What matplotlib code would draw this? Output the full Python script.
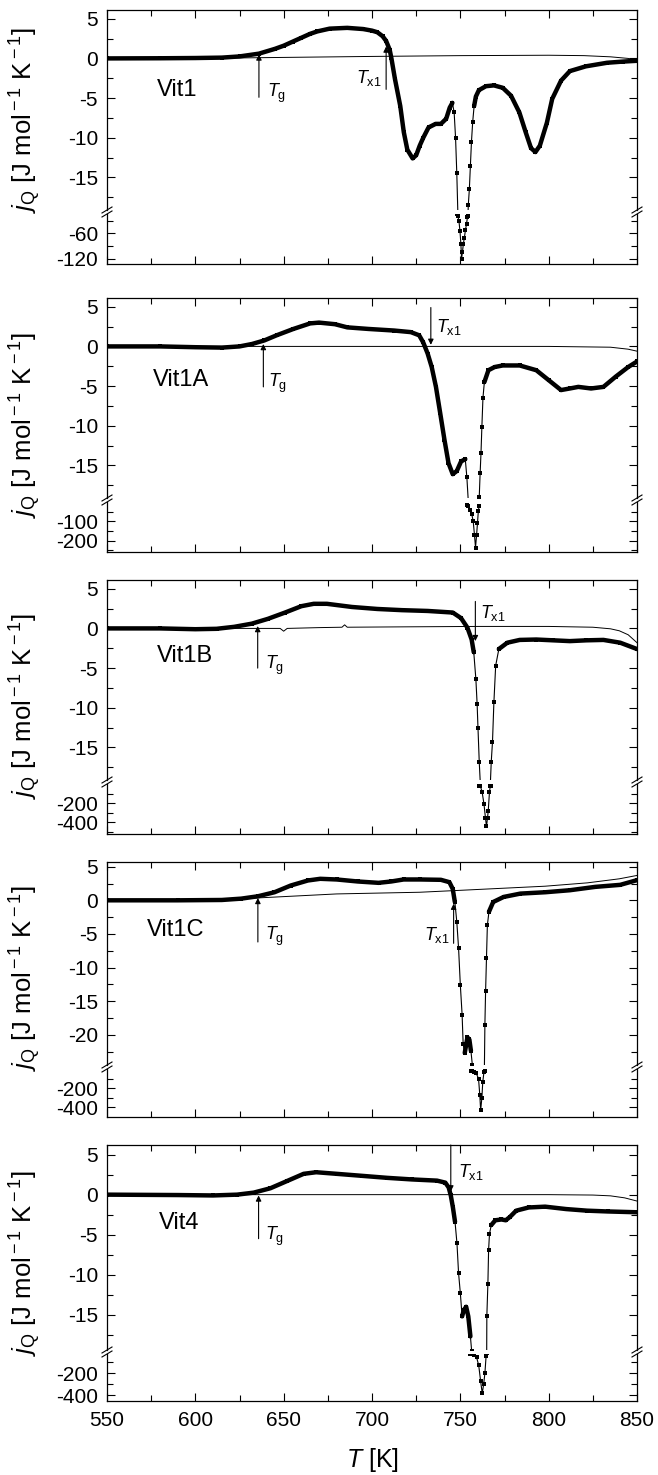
import numpy as np
import matplotlib
matplotlib.use('Agg')
import matplotlib.pyplot as plt
from matplotlib.lines import Line2D
from matplotlib.ticker import MultipleLocator, FixedLocator

plt.rcParams['font.family'] = ['Liberation Sans', 'DejaVu Sans']
plt.rcParams['mathtext.fontset'] = 'custom'
plt.rcParams['mathtext.rm'] = 'Liberation Sans'
plt.rcParams['mathtext.it'] = 'Liberation Sans:italic'
plt.rcParams['axes.unicode_minus'] = False

# ---- data: T [K], j_Q [J mol^-1 K^-1] ----
vit1_T = [550, 580, 600, 615, 625, 636, 645, 650, 655, 660, 665, 669, 676, 686, 695, 700, 703, 706,
          708, 710, 711, 713, 716, 718, 720, 723, 725, 727, 729, 732, 736, 739, 742, 744, 745.5,
          746.5, 747.3, 748.0, 748.6, 749.2, 749.8, 750.3, 750.7, 751.2, 751.7, 752.3, 752.9, 753.5,
          754.0, 754.5, 755.1, 755.7, 756.3, 757.0, 757.8, 758.8, 760.5, 764.5, 769, 774, 778.7,
          783.4, 787, 790, 792.5, 795, 799, 802, 807, 812, 821, 833, 842, 850]
vit1_j = [0.0, 0.02, 0.05, 0.1, 0.25, 0.6, 1.2, 1.6, 2.1, 2.6, 3.1, 3.4, 3.75, 3.85, 3.7, 3.5, 3.3, 2.8,
          2.2, 1.1, 0.0, -2.6, -6.0, -9.3, -11.5, -12.6, -12.2, -11.0, -10.0, -8.7, -8.25, -8.25, -7.6,
          -6.2, -5.6, -6.8, -10.0, -14.5, -19.5, -30, -55, -85, -120, -105, -85, -70, -52, -38,
          -22, -18.5, -16.5, -13.5, -10.5, -8.0, -6.0, -4.8, -4.0, -3.5, -3.4, -3.7, -4.7,
          -6.8, -9.3, -11.3, -11.8, -11.0, -8.1, -5.1, -2.8, -1.6, -1.0, -0.55, -0.4, -0.3]
vit1_base_T = [550, 620, 660, 700, 750, 800, 820, 835, 845, 850]
vit1_base_j = [0.0, 0.05, 0.15, 0.25, 0.35, 0.4, 0.35, 0.2, 0.0, -0.3]

vit1a_T = [550, 580, 600, 615, 625, 632, 639, 646, 655.5, 665, 670, 679, 686, 698, 712.5, 722, 726.7,
           729, 731.5, 733.8, 736.2, 738.6, 741, 743.3, 745.7, 748, 750.4, 752.8, 753.7, 754.5,
           755.5, 756.4, 757.3, 758.0, 758.6, 759.2, 759.7, 760.2, 760.7, 761.2, 761.7, 762.2,
           762.8, 763.6, 765.9, 769.4, 774, 783.6, 793, 800, 807, 812, 816.8, 824, 831, 838, 845, 850]
vit1a_j = [0.0, 0.0, -0.1, -0.15, 0.0, 0.3, 0.75, 1.4, 2.2, 2.9, 3.0, 2.8, 2.4, 2.2, 2.0, 1.8, 1.4,
           0.5, -0.9, -2.6, -5.1, -8.4, -11.75, -14.7, -16.1, -15.7, -14.5, -14.2, -16.5, -19.5,
           -40, -60, -100, -170, -235, -170, -110, -45, -19.0, -16.0, -13.4, -10.1,
           -6.5, -4.5, -3.0, -2.6, -2.4, -2.4, -3.0, -4.25, -5.5, -5.3, -5.1, -5.3, -5.1, -3.8, -2.6, -1.9]
vit1a_base_T = [550, 700, 800, 835, 845, 850]
vit1a_base_j = [0.0, 0.0, 0.0, -0.1, -0.35, -0.6]

vit1b_T = [550, 580, 600, 612, 622, 632, 641, 650.8, 660, 667, 674.5, 688.7, 703, 717, 731.5, 745.7,
           750.4, 754, 756.4, 757.6, 758.8, 759.5, 760, 760.7, 761.3, 762.3, 763.4, 764.2, 764.8,
           765.4, 765.8, 766.5, 767.0, 767.5, 768.2, 769, 770, 771.8, 776.6, 783.6, 793, 802.5,
           812, 821.4, 831, 840.5, 850]
vit1b_j = [0.0, 0.0, -0.1, -0.05, 0.2, 0.6, 1.2, 2.0, 2.8, 3.1, 3.1, 2.7, 2.45, 2.3, 2.2, 2.0,
           1.3, 0.1, -1.4, -3.0, -6.4, -9.5, -12.6, -16.8, -19.5, -80, -210, -350, -440,
           -350, -280, -80, -19.5, -16.8, -14.3, -9.3, -4.7, -2.6, -1.8, -1.45, -1.4, -1.5,
           -1.6, -1.5, -1.45, -1.8, -2.6]
vit1b_base_T = [550, 640, 648, 650, 652, 670, 683, 684.5, 686, 720, 760, 800, 825, 835, 840, 845, 850]
vit1b_base_j = [0.0, 0.0, 0.0, -0.35, 0.0, 0.1, 0.15, 0.45, 0.15, 0.2, 0.25, 0.25, 0.15, -0.05, -0.3,
                -0.8, -1.8]

vit1c_T = [550, 590, 615, 626, 635.4, 644.8, 654, 663.7, 670.7, 680, 692, 703.7, 710.8, 717.9, 727.3,
           739, 743.8, 745.7, 746.9, 748, 749, 750, 751, 751.6, 752.5, 753.3, 754, 755.1, 756,
           756.8, 757.5, 759, 760.3, 761, 761.5, 762.2, 762.7, 763.4, 763.9, 764.3, 764.8, 765.3,
           766.2, 768.6, 774.5, 784, 798, 812, 826.4, 840.5, 850]
vit1c_j = [0.0, 0.0, 0.05, 0.25, 0.6, 1.2, 2.2, 2.95, 3.2, 3.1, 2.8, 2.6, 2.8, 3.1, 3.1,
           3.05, 2.7, 1.7, -0.25, -3.2, -7.1, -12.6, -17, -21.4, -22.7, -21.5, -20.4, -20.7, -22.4,
           -24.5, -30, -45, -100, -267, -430, -300, -133, -30, -18.5, -13.5, -8.6, -3.7,
           -1.7, -0.25, 0.5, 1.0, 1.2, 1.5, 2.0, 2.3, 3.0]
vit1c_base_T = [550, 600, 635, 680, 727, 751, 798, 822, 840, 850]
vit1c_base_j = [0.0, 0.15, 0.35, 0.95, 1.2, 1.5, 2.1, 2.6, 3.2, 3.7]

vit4_T = [550, 590, 610, 623.6, 633, 642.5, 651.9, 661.3, 668.4, 680, 694.3, 708.5, 722.6, 736.8,
          741.5, 743.4, 744.6, 745.8, 747, 748.1, 749, 750, 751, 752, 753.3, 754.5, 755.7, 756.4,
          757.5, 759.2, 760.4, 761.5, 762.4, 763.2, 763.9, 764.6, 765, 765.6, 766, 766.5, 767.5,
          769.8, 773.3, 775.7, 778, 781.6, 788.7, 798, 809.9, 821.7, 833.5, 850]
vit4_j = [0.0, -0.05, -0.1, 0.0, 0.25, 0.8, 1.7, 2.6, 2.8, 2.6, 2.35, 2.1, 1.9, 1.75,
          1.5, 0.9, -0.1, -1.6, -3.4, -6.1, -9.8, -12.3, -15.2, -14.4, -14.0, -15.2, -17.7, -19.5,
          -29, -53, -126, -274, -385, -300, -200, -38, -15.2, -11.1, -6.9, -4.9, -3.8,
          -3.2, -3.1, -3.2, -2.8, -2.0, -1.6, -1.5, -1.8, -2.0, -2.1, -2.2]
vit4_base_T = [550, 700, 800, 825, 835, 843, 850]
vit4_base_j = [0.0, 0.0, 0.0, -0.05, -0.15, -0.4, -0.8]

names = ['Vit1', 'Vit1A', 'Vit1B', 'Vit1C', 'Vit4']
curves = [(vit1_T, vit1_j), (vit1a_T, vit1a_j), (vit1b_T, vit1b_j), (vit1c_T, vit1c_j), (vit4_T, vit4_j)]
bases = [(vit1_base_T, vit1_base_j), (vit1a_base_T, vit1a_base_j), (vit1b_base_T, vit1b_base_j),
         (vit1c_base_T, vit1c_base_j), (vit4_base_T, vit4_base_j)]

# Tg / Tx1 arrows: (T, tail j, head j)
tg_arrows = [(636, -4.9, 0.5), (638.5, -5.1, 0.3), (635.3, -5.0, 0.3), (635.4, -6.2, 0.35), (635.8, -5.5, -0.1)]
tx_arrows = [(708, -3.9, 1.5), (733.3, 4.9, 0.2), (758.5, 3.4, -1.6), (746.2, -6.4, -0.5), (744.6, 6.2, 0.4)]

# ---- layout (pixels) ----
W, H = 658, 1475
X0, X1 = 107, 637
GAP = 4
panels = [
    dict(top=10, brk=212, bot=264, ulim=(-19.1, 6.1), llim=(-133, -14), umaj=[5, 0, -5, -10, -15],
         lmaj=[-60, -120], lmin=[-30, -90], lab=(578, -4.0), tg_lab=(640.8, -4.4, 'left'),
         tx_lab=(705.5, -2.5, 'right'), ylab_y=120),
    dict(top=298, brk=500, bot=552, ulim=(-19.1, 6.1), llim=(-258, 0), umaj=[5, 0, -5, -10, -15],
         lmaj=[-100, -200], lmin=[-50, -150, -250], lab=(576, -4.25), tg_lab=(641.3, -4.7, 'left'),
         tx_lab=(736.2, 2.4, 'left'), ylab_y=425),
    dict(top=580, brk=782, bot=834, ulim=(-19.1, 6.1), llim=(-520, 0), umaj=[5, 0, -5, -10, -15],
         lmaj=[-200, -400], lmin=[-100, -300, -500], lab=(578, -3.5), tg_lab=(639.4, -4.7, 'left'),
         tx_lab=(761, 2.0, 'left'), ylab_y=706),
    dict(top=862, brk=1067, bot=1117, ulim=(-24.5, 5.7), llim=(-500, 0), umaj=[5, 0, -5, -10, -15, -20],
         lmaj=[-200, -400], lmin=[-100, -300], lab=(572.5, -4.4), tg_lab=(639.6, -5.3, 'left'),
         tx_lab=(743.8, -5.2, 'right'), ylab_y=978),
    dict(top=1145, brk=1352, bot=1401, ulim=(-19.4, 6.2), llim=(-455, -22), umaj=[5, 0, -5, -10, -15],
         lmaj=[-200, -400], lmin=[-100, -300], lab=(579.5, -3.6), tg_lab=(639.6, -5.2, 'left'),
         tx_lab=(748.5, 2.8, 'left'), ylab_y=1263),
]

TICK_FS = 15
fig = plt.figure(figsize=(W / 100, H / 100), dpi=100)


def rect(top, bottom):
    return [X0 / W, 1 - bottom / H, (X1 - X0) / W, (bottom - top) / H]


def style_axis(ax, upper, last):
    ax.set_xlim(550, 850)
    ax.xaxis.set_major_locator(MultipleLocator(50))
    ax.xaxis.set_minor_locator(MultipleLocator(25))
    ax.tick_params(which='both', direction='in', left=True, right=True, top=upper, bottom=not upper,
                   labelbottom=(last and not upper), labelsize=TICK_FS, width=0.8, pad=6.5)
    ax.tick_params(which='major', length=6)
    ax.tick_params(which='minor', length=4)
    ax.tick_params(axis='x', pad=7)
    for s in ax.spines.values():
        s.set_linewidth(0.9)
    if upper:
        ax.spines['bottom'].set_visible(False)
    else:
        ax.spines['top'].set_visible(False)


def draw_curve(ax, T, j, ylow, lower):
    T = np.asarray(T, float)
    j = np.asarray(j, float)
    if lower:
        # lower segment carries the part of the peak below the break (plus the points next to it)
        below = j <= ylow
        near = below | np.r_[below[1:], False] | np.r_[False, below[:-1]]
        ax.plot(T, np.where(near, j, np.nan), color='k', lw=0.8, marker='s', ms=2.8, mew=0,
                zorder=3)
        return
    steep = (np.abs(np.gradient(j, T)) > 2.5) | (j < ylow)
    thick = np.where(steep, np.nan, j)
    ax.plot(T, j, color='k', lw=0.8, marker='s', ms=2.8, mew=0, zorder=3)
    ax.plot(T, thick, color='k', lw=3.2, solid_capstyle='round', solid_joinstyle='round', zorder=4)


def arrow(ax, x, tail, head):
    ax.annotate('', xy=(x, head), xytext=(x, tail),
                arrowprops=dict(arrowstyle='-|>', lw=0.8, color='k', mutation_scale=8,
                                shrinkA=0, shrinkB=0), zorder=5)


for i, p in enumerate(panels):
    last = i == len(panels) - 1
    ax_u = fig.add_axes(rect(p['top'], p['brk'] - GAP / 2))
    ax_l = fig.add_axes(rect(p['brk'] + GAP / 2, p['bot']))
    T, j = curves[i]
    bT, bj = bases[i]
    ax_u.plot(bT, bj, color='k', lw=0.7, zorder=2)
    draw_curve(ax_u, T, j, p['ulim'][0], False)
    draw_curve(ax_l, T, j, p['ulim'][0], True)
    ax_u.set_ylim(*p['ulim'])
    ax_l.set_ylim(*p['llim'])
    style_axis(ax_u, True, last)
    style_axis(ax_l, False, last)
    ax_u.yaxis.set_major_locator(FixedLocator(p['umaj']))
    ax_u.yaxis.set_minor_locator(MultipleLocator(2.5))
    ax_l.yaxis.set_major_locator(FixedLocator(p['lmaj']))
    ax_l.yaxis.set_minor_locator(FixedLocator(p['lmin']))

    ax_u.text(p['lab'][0], p['lab'][1], names[i], fontsize=17, ha='left', va='center')
    arrow(ax_u, *tg_arrows[i])
    arrow(ax_u, *tx_arrows[i])
    ax_u.text(p['tg_lab'][0], p['tg_lab'][1], r'$T_{\rm g}$', fontsize=13, ha=p['tg_lab'][2], va='center')
    ax_u.text(p['tx_lab'][0], p['tx_lab'][1], r'$T_{\rm x1}$', fontsize=13, ha=p['tx_lab'][2], va='center')

    # break marks on both side spines
    for xp in (X0, X1):
        for yp in (p['brk'] - GAP / 2, p['brk'] + GAP / 2):
            fig.add_artist(Line2D([(xp - 5) / W, (xp + 5) / W], [1 - (yp + 3) / H, 1 - (yp - 3) / H],
                                  color='k', lw=0.8))

    fig.text(25 / W, 1 - p['ylab_y'] / H, r'$j_{\rm Q}$ [J mol$^{\rm -1}$ K$^{\rm -1}$]',
             rotation=90, fontsize=18.5, ha='center', va='center')

fig.text((X0 + X1) / 2 / W, 1 - 1460 / H, r'$T$ [K]', fontsize=18, ha='center', va='center')

fig.savefig('out.png', dpi=100)
